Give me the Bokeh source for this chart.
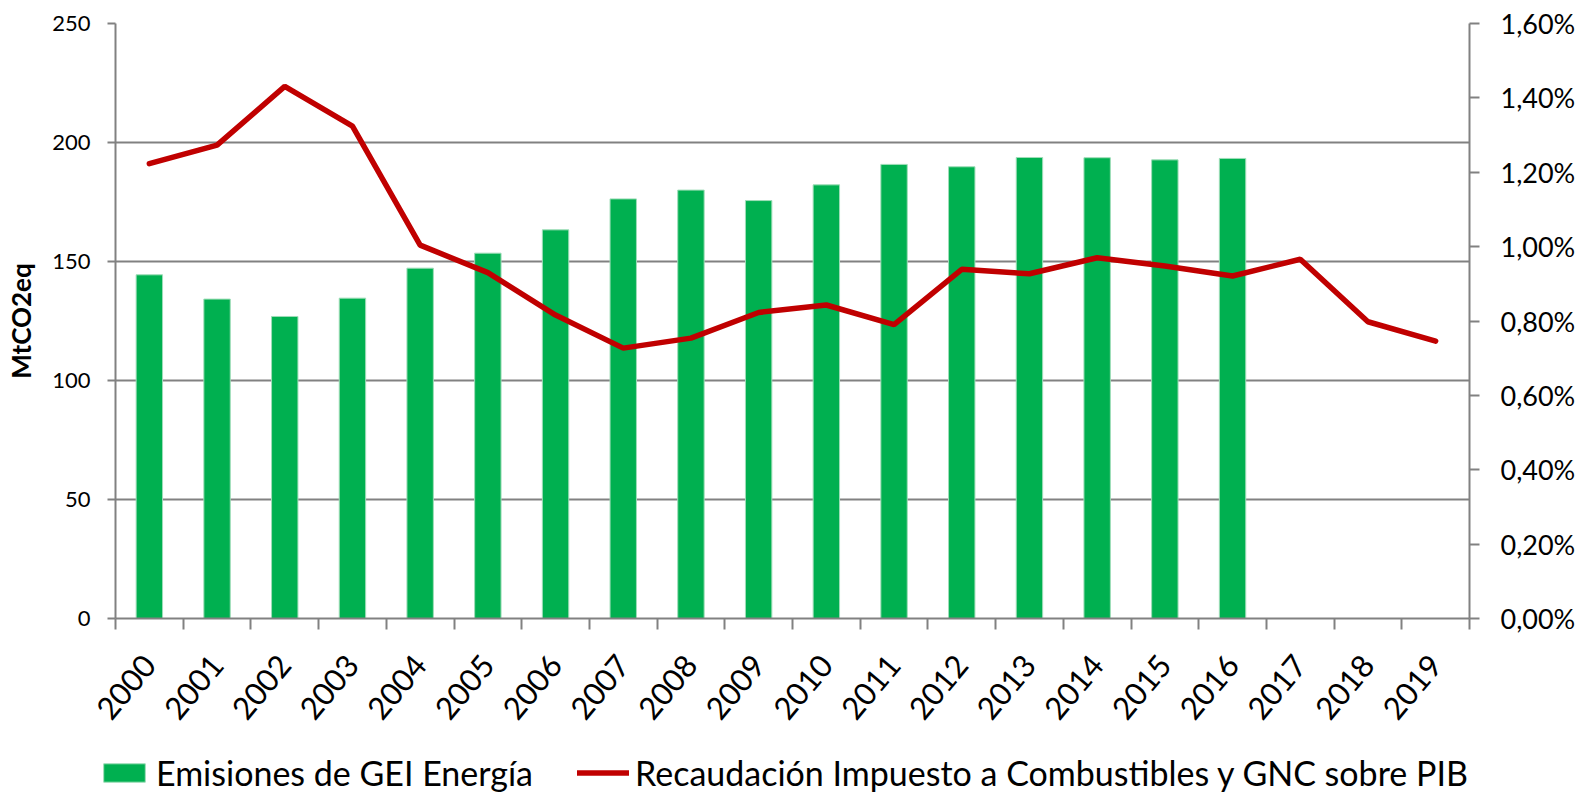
from bokeh.plotting import figure
from bokeh.layouts import column
from bokeh.models import Range1d, LinearAxis, FixedTicker, Legend, LegendItem
from bokeh.embed import file_html
from bokeh.resources import INLINE

# ---------------- data ----------------
years = [str(y) for y in range(2000, 2020)]
emissions_years = years[:17]
emissions = [144.4, 134.2, 126.9, 134.6, 147.2, 153.5, 163.3, 176.3, 180.0,
             175.6, 182.2, 190.8, 189.8, 193.7, 193.6, 192.7, 193.3]
tax_pct = [1.223, 1.273, 1.431, 1.324, 1.004, 0.930, 0.816, 0.727, 0.754, 0.823,
           0.843, 0.790, 0.939, 0.927, 0.970, 0.948, 0.921, 0.966, 0.798, 0.746]
left_ticks = [0, 50, 100, 150, 200, 250]
right_ticks = [0.0, 0.2, 0.4, 0.6, 0.8, 1.0, 1.2, 1.4, 1.6]
right_tick_labels = ["0,00%", "0,20%", "0,40%", "0,60%", "0,80%", "1,00%",
                     "1,20%", "1,40%", "1,60%"]
bar_label = "Emisiones de GEI Energía"
line_label = "Recaudación Impuesto a Combustibles y GNC sobre PIB"
y_label = "MtCO2eq"

FONT = "Lato"
GRID = "#818181"
GREEN = "#00B050"
RED = "#C00000"
BAR_EDGE = "#9FDDB8"

# positions from category index
x_all = [i + 0.5 for i in range(len(years))]
x_bars = [years.index(y) + 0.5 for y in emissions_years]

W = 1585
p = figure(width=W, height=736, output_backend="svg", toolbar_location=None,
           x_range=Range1d(0, len(years)), y_range=Range1d(0, 250),
           min_border_left=115, min_border_right=116, min_border_top=23,
           min_border_bottom=118, outline_line_color=None,
           background_fill_color="white", border_fill_color="white")
p.frame_align = False
p.xaxis.visible = False
p.yaxis.visible = False
p.xgrid.visible = False
p.ygrid.ticker = FixedTicker(ticks=left_ticks)
p.ygrid.grid_line_color = GRID
p.ygrid.grid_line_width = 2

p.extra_y_ranges = {"pct": Range1d(0, 1.6)}

# bottom axis: labels at centers, ticks at boundaries (minor ticks)
xaxis = LinearAxis(ticker=FixedTicker(ticks=x_all,
                                      minor_ticks=list(range(len(years) + 1))))
xaxis.major_label_overrides = {x: y for x, y in zip(x_all, years)}
xaxis.major_tick_out = 0
xaxis.major_tick_in = 0
xaxis.minor_tick_out = 11
xaxis.minor_tick_in = 0
xaxis.minor_tick_line_color = GRID
xaxis.minor_tick_line_width = 2
xaxis.axis_line_color = GRID
xaxis.axis_line_width = 2
xaxis.major_label_orientation = 0.873
xaxis.major_label_standoff = 30
xaxis.major_label_text_font = FONT
xaxis.major_label_text_font_size = "31px"
xaxis.major_label_text_color = "black"
p.add_layout(xaxis, "below")

# left axis
yaxis = LinearAxis(ticker=FixedTicker(ticks=left_ticks))
yaxis.major_tick_out = 8
yaxis.major_tick_in = 0
yaxis.minor_tick_out = 0
yaxis.minor_tick_in = 0
yaxis.major_tick_line_color = GRID
yaxis.major_tick_line_width = 2
yaxis.axis_line_color = GRID
yaxis.axis_line_width = 2
yaxis.major_label_standoff = 17
yaxis.major_label_text_font = FONT
yaxis.major_label_text_font_size = "22px"
yaxis.major_label_text_color = "black"
yaxis.axis_label = y_label
yaxis.axis_label_text_font = FONT
yaxis.axis_label_text_font_style = "bold"
yaxis.axis_label_text_font_size = "26px"
yaxis.axis_label_text_color = "black"
yaxis.axis_label_standoff = 12
p.add_layout(yaxis, "left")

# right axis
raxis = LinearAxis(y_range_name="pct", ticker=FixedTicker(ticks=right_ticks))
raxis.major_label_overrides = {t: l for t, l in zip(right_ticks, right_tick_labels)}
raxis.major_tick_out = 10
raxis.major_tick_in = 0
raxis.minor_tick_out = 0
raxis.minor_tick_in = 0
raxis.major_tick_line_color = GRID
raxis.major_tick_line_width = 2
raxis.axis_line_color = GRID
raxis.axis_line_width = 2
raxis.major_label_standoff = 21
raxis.major_label_text_font = FONT
raxis.major_label_text_font_size = "27px"
raxis.major_label_text_color = "black"
p.add_layout(raxis, "right")

bars = p.vbar(x=x_bars, top=emissions, width=0.39, fill_color=GREEN,
              line_color=BAR_EDGE, line_width=1)
line = p.line(x=x_all, y=tax_pct, y_range_name="pct", line_color=RED,
              line_width=5.5, line_cap="round")

# ---------------- legend strip ----------------
LH = 57
lf = figure(width=W, height=LH, output_backend="svg", toolbar_location=None,
            x_range=Range1d(0, 1), y_range=Range1d(0, 1),
            min_border_left=0, min_border_right=0, min_border_top=0,
            min_border_bottom=0, outline_line_color=None,
            background_fill_color="white", border_fill_color="white")
lf.frame_align = False
lf.axis.visible = False
lf.grid.visible = False
# legend proxies, kept well outside the strip's visible range
leg_bar = lf.vbar(x=[50], top=[-50], bottom=[-60], width=0.39, fill_color=GREEN,
                  line_color=BAR_EDGE, line_width=1)
leg_line = lf.line(x=[50, 51], y=[-50, -50], line_color=RED, line_width=5.5,
                   line_cap="round")

legend = Legend(items=[LegendItem(label=bar_label, renderers=[leg_bar]),
                       LegendItem(label=line_label, renderers=[leg_line])],
                orientation="horizontal", location=(98, 0),
                glyph_width=52, glyph_height=23, label_standoff=6, spacing=44,
                padding=0, margin=0, border_line_color=None,
                background_fill_alpha=0,
                label_text_font=FONT, label_text_font_size="34px",
                label_text_color="black")
lf.add_layout(legend, "center")

layout = column(p, lf, spacing=0)
open("out.html", "w").write(file_html(layout, INLINE))
